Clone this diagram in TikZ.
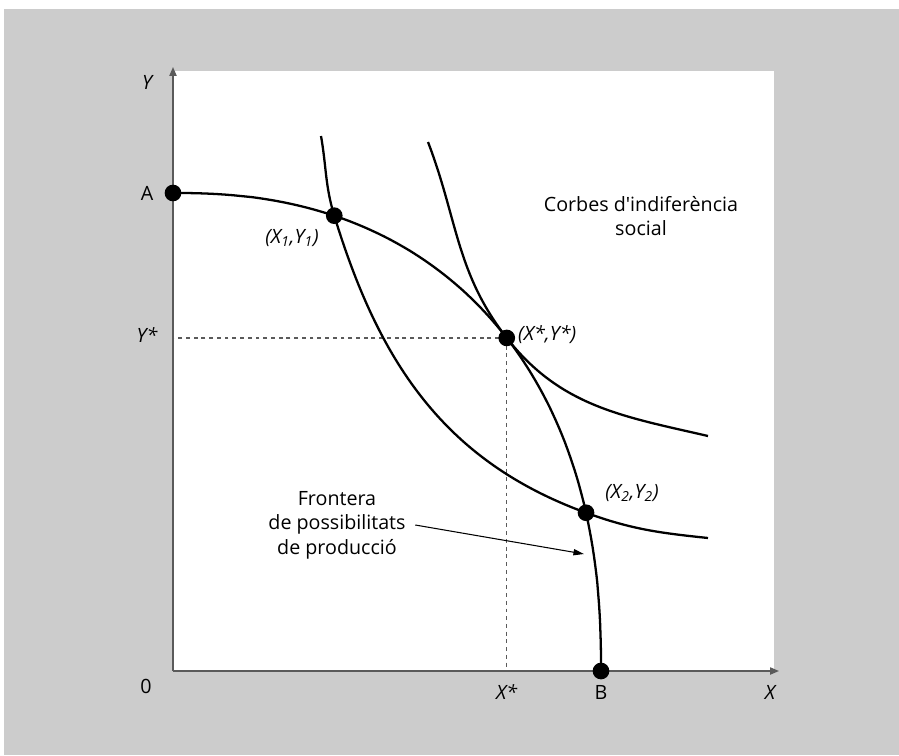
\documentclass[tikz,border=0pt]{standalone}
\usepackage{fontspec}
\setmainfont{Open Sans}
\usepackage{tikz}
\usepackage{xcolor}
\usetikzlibrary{arrows.meta, positioning}

\definecolor{bggray}{HTML}{CCCCCC}
\definecolor{axisgray}{HTML}{5A5A5A}

\begin{document}
\begin{tikzpicture}[x=0.02cm, y=0.02cm, font=\fontsize{11.2}{14}\selectfont,
    curve/.style={line width=1.3pt, black},
    axis/.style={line width=0.9pt, axisgray, -{Triangle[length=5pt, width=4pt]}},
    guide/.style={line width=0.7pt, axisgray, dash pattern=on 2.2pt off 2.2pt},
    dot/.style={circle, fill=black, inner sep=0pt, minimum size=9.5pt}]
    \useasboundingbox (-173,-84) rectangle (726,671);
    % Background panel and plot area
    \fill[bggray] (-169,-84) rectangle (726,662);
    \fill[white] (0,0) rectangle (601,600);

    % Points on the frontier
    \coordinate (O) at (0,0);
    \coordinate (A) at (0,478);
    \coordinate (B) at (428,0);
    \coordinate (X1) at ({428*cos(71)^0.87},{478*sin(71)^0.87});
    \coordinate (Xs) at ({428*cos(41.3)^0.87},{478*sin(41.3)^0.87});
    \coordinate (X2) at ({428*cos(16.3)^0.87},{478*sin(16.3)^0.87});

    % Guide lines to the optimum
    \draw[guide] (Xs) -- (Xs |- O);
    \draw[guide] (Xs) -- (Xs -| O);

    % Axes
    \draw[axis] (O) -- (0,604);
    \draw[axis] (O) -- (606,0);

    % Production possibility frontier
    \draw[curve] plot[domain=0.05:89.95, samples=90] ({428*cos(\x)^0.87}, {478*sin(\x)^0.87});

    % Social indifference curves
    \draw[curve] (148,535) to[out=-80, in=107] (X1) to[out=-73, in=160] (X2)
        to[out=-20, in=174] (535,133);
    \draw[curve] (255,529) to[out=-69, in=128] (Xs) to[out=-52, in=167] (535,235);

    % Dots
    \foreach \p in {A, B, X1, Xs, X2}
        \node[dot] at (\p) {};

    % Axis labels
    \node (ylab) at (-26,589) {\itshape Y};
    \node (xlab) at (597,-21) {\itshape X};
    \node (olab) at (-27,-15) {0};
    \node (alab) at (-26,478) {A};
    \node (blab) at (428,-21) {B};
    \node (yslab) at (-26,336) {\itshape Y*};
    \node (xslab) at (Xs |- 0,-21) {\itshape X*};

    % Point labels
    \node (x1lab) at (119,433) {\itshape (X\textsubscript{1},Y\textsubscript{1})};
    \node[anchor=west] (xstarlab) at ([xshift=3pt, yshift=2pt]Xs) {\itshape (X*,Y*)};
    \node (x2lab) at (459,178) {\itshape (X\textsubscript{2},Y\textsubscript{2})};

    % Curve names
    \node[align=center] (corbes) at (468,455) {Corbes d\textquotesingle indiferència\\social};
    \node[align=center] (frontera) at (164,146) {Frontera\\de possibilitats\\de producció};
    \coordinate (ftip) at (411,117);
    \draw[line width=0.6pt, -{Triangle[length=6pt, width=3.5pt]}] ([xshift=2pt]frontera.east) -- (ftip);
\end{tikzpicture}
\end{document}
